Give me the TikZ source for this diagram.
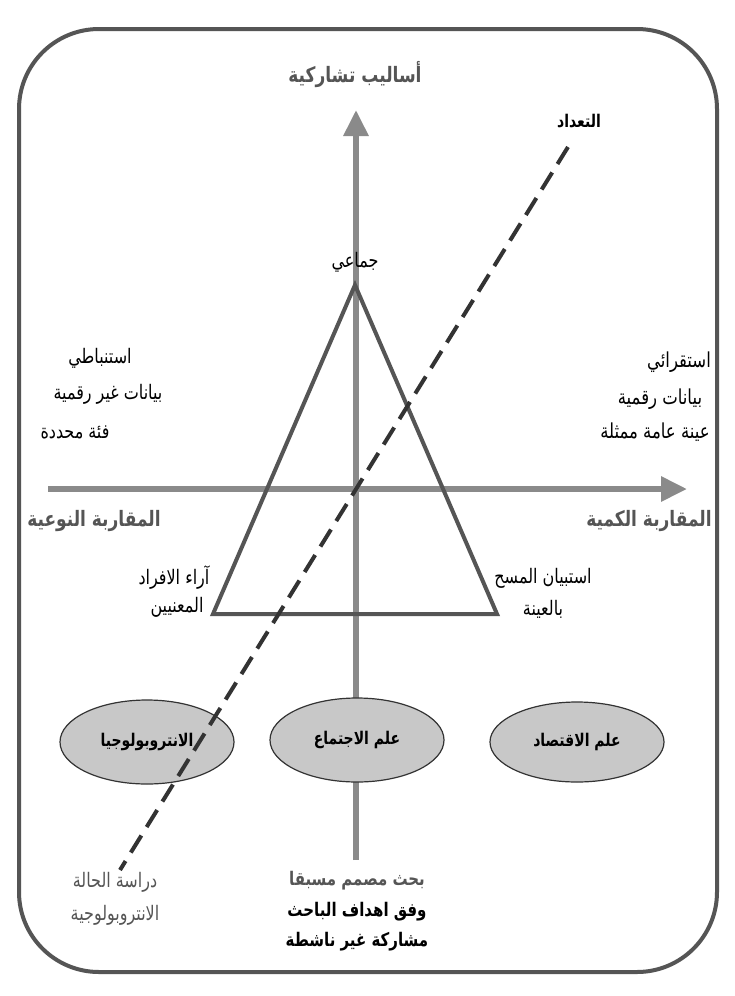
\documentclass[tikz,border=0pt]{standalone}
\usepackage{graphicx}
\usepackage{fontspec}
\usetikzlibrary{arrows.meta,shapes.geometric}
\newfontfamily\arabicfont[Script=Arabic]{DejaVu Sans}
\TeXXeTstate=1
\definecolor{frame}{HTML}{555555}
\definecolor{axis}{HTML}{8A8A8A}
\definecolor{dashc}{HTML}{333333}
\definecolor{ellfill}{HTML}{C8C8C8}
\newcommand{\ar}[1]{\scalebox{1}[1.25]{\arabicfont\beginR #1\endR}}
\tikzset{
  lbl/.style={font=\arabicfont\fontsize{16}{18}\selectfont, text=black, inner sep=0pt},
  lblr/.style={font=\arabicfont\fontsize{16.5}{18}\selectfont, text=black, inner sep=0pt},
  lblg/.style={font=\arabicfont\bfseries\fontsize{17}{19}\selectfont, text=frame, inner sep=0pt},
  lblb/.style={font=\arabicfont\bfseries\fontsize{15}{17}\selectfont, text=black, inner sep=0pt},
  discipline/.style={ellipse, draw=dashc, line width=1.2pt, fill=ellfill, minimum width=174pt, minimum height=84pt, font=\arabicfont\bfseries\fontsize{14}{16}\selectfont},
  axisline/.style={draw=axis, line width=6pt, -{Triangle[length=26pt,width=24pt]}},
}
\begin{document}
\begin{tikzpicture}[x=1pt,y=-1pt]
\useasboundingbox (0,0) rectangle (735,996);
\fill[white] (0,0) rectangle (735,996);
\draw[frame, line width=4pt, rounded corners=80pt] (19,29) rectangle (717,972);
% axes
\coordinate (vbot) at (356,860);
\coordinate (vtop) at (356,110);
\coordinate (hleft) at (48,489);
\coordinate (hright) at (687,489);
\draw[axisline] (vbot) -- (vtop);
\draw[axisline] (hleft) -- (hright);
% triangle
\coordinate (apex) at (355,285);
\coordinate (bl) at (213,614);
\coordinate (br) at (497,614);
\draw[frame, line width=4pt, line join=miter] (apex) -- (bl) -- (br) -- cycle;
% ellipses
\node[discipline] (anth) at (147,742) {\ar{الانتروبولوجيا}};
\node[discipline] (soc) at (357,740) {\ar{علم الاجتماع}};
\node[discipline, minimum height=80pt] (eco) at (577,742) {\ar{علم الاقتصاد}};
% dashed line
\coordinate (dtop) at (568,147);
\coordinate (dbot) at (120,870);
\draw[dashc, line width=4pt, dash pattern=on 20pt off 10pt] (dtop) -- (dbot);
% texts
\node[lblg] (t1) at (355,75) {\ar{أساليب تشاركية}};
\node[lbl, font=\arabicfont\bfseries\fontsize{14}{16}\selectfont] (t2) at (579,121) {\ar{التعداد}};
\node[lbl] (t3) at (355,262) {\ar{جماعي}};
\node[lbl] (l1) at (100,358) {\ar{استنباطي}};
\node[lbl] (l2) at (108,394) {\ar{بيانات غير رقمية}};
\node[lbl] (l3) at (75,432) {\ar{فئة محددة}};
\node[lblr] (r1) at (679,362) {\ar{استقرائي}};
\node[lblr] (r2) at (660,399) {\ar{بيانات رقمية}};
\node[lblr] (r3) at (655,432) {\ar{عينة عامة ممثلة}};
\node[lblg] (q1) at (94,521) {\ar{المقاربة النوعية}};
\node[lblg] (q2) at (649,521) {\ar{المقاربة الكمية}};
\node[lbl] (a1) at (174,578) {\ar{آراء الافراد}};
\node[lbl] (a2) at (177,607) {\ar{المعنيين}};
\node[lbl] (b1) at (543,578) {\ar{استبيان المسح}};
\node[lbl] (b2) at (543,609) {\ar{بالعينة}};
\node[lbl, text=frame] (c1) at (115,882) {\ar{دراسة الحالة}};
\node[lbl, text=frame] (c2) at (115,915) {\ar{الانتروبولوجية}};
\node[lblb, text=frame] (d1) at (357,881) {\ar{بحث مصمم مسبقا}};
\node[lblb] (d2) at (357,912) {\ar{وفق اهداف الباحث}};
\node[lblb] (d3) at (357,942) {\ar{مشاركة غير ناشطة}};
\end{tikzpicture}
\end{document}
